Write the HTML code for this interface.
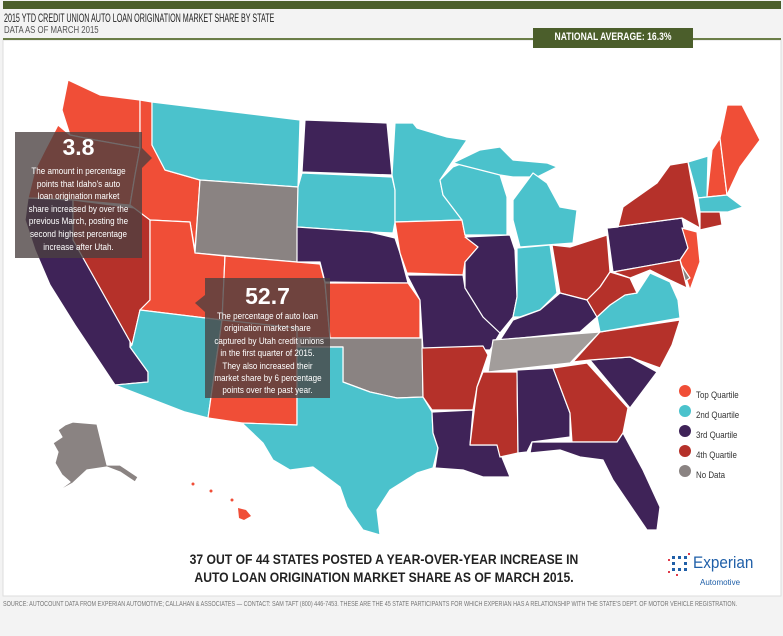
<!DOCTYPE html>
<html><head><meta charset="utf-8">
<style>
html,body{margin:0;padding:0;background:#f3f3f3;}
body{width:783px;height:636px;position:relative;overflow:hidden;font-family:"Liberation Sans",sans-serif;}
.t{position:absolute;white-space:nowrap;transform-origin:0 0;}
.c{position:absolute;white-space:nowrap;text-align:center;transform-origin:50% 0;}
</style></head><body>
<svg width="783" height="636" viewBox="0 0 783 636" xmlns="http://www.w3.org/2000/svg" style="position:absolute;left:0;top:0">
<rect x="0" y="0" width="783" height="636" fill="#f3f3f3"/>
<rect x="3" y="1" width="778" height="8" fill="#4b5e2b"/>
<rect x="3" y="40" width="778" height="556" fill="#fff" stroke="#ddd"/>
<rect x="3" y="38" width="778" height="2" fill="#6b7d48"/>
<rect x="533" y="28" width="160" height="20" fill="#4b5e2b"/>
<g stroke="#fff" stroke-width="1.2" stroke-linejoin="round">
<polygon fill="#f04e37" points="68,80 100,95 140,100 140,148 95,140 70,135 62,110"/>
<polygon fill="#f04e37" points="58,125 70,135 95,140 140,148 135,175 130,205 73,200 28,198 35,170 45,150"/>
<polygon fill="#3f2358" points="28,198 73,200 73,240 130,320 130,347 148,372 148,382 115,385 95,355 75,325 50,285 35,250 25,220"/>
<polygon fill="#b5312a" points="73,200 150,210 150,300 140,310 132,345 73,240"/>
<polygon fill="#f04e37" points="140,100 152,102 152,145 165,170 200,180 195,250 190,222 150,220 130,205 135,175 140,148"/>
<polygon fill="#4bc2cc" points="152,102 300,120 298,187 200,180 165,170 152,145"/>
<polygon fill="#8a8382" points="200,180 298,187 297,262 195,253"/>
<polygon fill="#f04e37" points="150,220 190,222 195,253 225,256 222,320 140,310 150,300"/>
<polygon fill="#f04e37" points="225,256 320,264 325,283 330,338 297,338 222,320"/>
<polygon fill="#4bc2cc" points="140,310 222,320 208,418 185,412 115,385 148,382 148,372 130,347 132,345"/>
<polygon fill="#f04e37" points="222,320 297,328 297,425 242,423 208,418"/>
<polygon fill="#3f2358" points="305,120 387,123 392,175 302,172"/>
<polygon fill="#4bc2cc" points="302,173 392,177 395,190 395,222 393,233 370,232 297,227 298,187"/>
<polygon fill="#3f2358" points="297,227 370,232 395,238 400,253 408,283 325,282 320,262 297,262"/>
<polygon fill="#f04e37" points="325,283 408,283 420,300 420,338 330,338"/>
<polygon fill="#8a8382" points="300,338 422,338 423,397 397,398 370,392 343,382 343,347 300,347"/>
<polygon fill="#4bc2cc" points="297,347 343,347 343,382 370,392 397,398 423,397 432,412 433,433 438,448 433,468 417,473 390,490 377,510 380,535 363,530 347,507 340,487 313,467 290,470 273,460 263,443 242,423 297,425"/>
<polygon fill="#4bc2cc" points="395,123 413,123 417,128 447,137 467,140 440,180 443,195 462,220 395,222 395,190 392,175"/>
<polygon fill="#f04e37" points="395,222 462,220 465,235 478,247 465,262 463,275 407,273 400,253"/>
<polygon fill="#3f2358" points="407,275 463,275 465,288 480,303 483,317 500,333 490,350 423,350 420,300"/>
<polygon fill="#b5312a" points="422,348 483,346 488,355 477,387 473,410 432,410 423,397"/>
<polygon fill="#3f2358" points="432,412 473,410 470,445 497,445 510,477 483,477 463,470 435,468 438,448 433,433"/>
<polygon fill="#4bc2cc" points="440,180 453,167 477,158 500,175 507,197 507,235 465,235 462,220 443,195"/>
<polygon fill="#3f2358" points="465,237 510,235 515,250 517,297 513,317 500,333 483,317 465,288 465,262 478,247"/>
<polygon fill="#4bc2cc" points="453,163 480,150 500,147 513,160 547,163 557,167 537,177 513,177 500,175"/>
<polygon fill="#4bc2cc" points="513,200 533,173 547,183 560,207 577,210 573,243 520,247 513,220"/>
<polygon fill="#4bc2cc" points="517,248 550,245 557,293 540,310 520,317 513,317 517,297"/>
<polygon fill="#b5312a" points="552,245 570,247 607,235 610,272 600,287 587,300 560,293"/>
<polygon fill="#3f2358" points="513,320 540,310 560,293 587,300 597,317 580,332 500,340"/>
<polygon fill="#a29d9b" points="493,340 600,332 570,363 488,372"/>
<polygon fill="#b5312a" points="483,372 517,372 518,453 500,457 497,445 470,445 477,387"/>
<polygon fill="#3f2358" points="517,370 553,368 570,413 570,437 532,442 527,452 518,453"/>
<polygon fill="#b5312a" points="553,368 587,363 628,408 623,433 617,442 572,442 570,413"/>
<polygon fill="#3f2358" points="532,442 617,442 623,433 643,470 660,507 657,530 647,530 613,480 603,460 580,457 560,450 530,453"/>
<polygon fill="#3f2358" points="590,360 630,357 657,372 630,408"/>
<polygon fill="#b5312a" points="573,362 600,332 680,320 672,345 660,368 630,357 590,360"/>
<polygon fill="#4bc2cc" points="597,317 610,305 625,295 637,293 650,273 670,282 678,300 680,318 600,332"/>
<polygon fill="#b5312a" points="610,272 630,278 637,293 625,295 610,305 597,317 587,300 600,287"/>
<polygon fill="#3f2358" points="607,228 682,218 688,248 680,260 613,272"/>
<polygon fill="#b5312a" points="618,227 623,207 657,183 670,165 688,162 697,213 700,228 682,218 607,228"/>
<polygon fill="#f04e37" points="682,228 697,232 700,262 690,290 680,260 688,248"/>
<polygon fill="#8a8382" points="678,260 690,278 684,282"/>
<polygon fill="#b5312a" points="613,272 680,260 687,288 670,280 650,270 630,278"/>
<polygon fill="#4bc2cc" points="688,162 708,156 707,197 698,198"/>
<polygon fill="#f04e37" points="712,150 720,138 727,195 707,197"/>
<polygon fill="#f04e37" points="720,138 727,105 742,105 760,140 740,167 727,195"/>
<polygon fill="#4bc2cc" points="698,198 727,195 743,207 728,212 700,212"/>
<polygon fill="#b5312a" points="700,212 720,212 722,225 700,230"/>
<polygon fill="#8a8382" points="65,425 73,422 97,424 107,465 120,465 138,477 135,482 120,472 107,467 87,470 73,483 55,493 70,482 62,475 55,463 58,452 53,443 62,437 58,430"/>
</g>
<g fill="#f04e37"><polygon points="238,508 246,510 251,516 244,520 239,518"/><circle cx="193" cy="484" r="1.5"/><circle cx="211" cy="491" r="1.5"/><circle cx="232" cy="500" r="1.5"/></g>
<rect x="15" y="132" width="127" height="126" fill="#4a4040" fill-opacity="0.78"/>
<polygon points="142,148 152,158 142,168" fill="#4a4040" fill-opacity="0.78"/>
<rect x="205" y="278" width="125" height="120" fill="#4a4040" fill-opacity="0.78"/>
<polygon points="205,295 195,303 205,312" fill="#4a4040" fill-opacity="0.78"/>
<circle cx="685" cy="391" r="6" fill="#f04e37"/>
<circle cx="685" cy="411" r="6" fill="#4bc2cc"/>
<circle cx="685" cy="431" r="6" fill="#3f2358"/>
<circle cx="685" cy="451" r="6" fill="#b5312a"/>
<circle cx="685" cy="471" r="6" fill="#8a8382"/>
<g fill="#1f5fa8"><rect x="672" y="556" width="3" height="3"/><rect x="672" y="562" width="3" height="3"/><rect x="672" y="568" width="3" height="3"/><rect x="678" y="568" width="3" height="3"/><rect x="684" y="568" width="3" height="3"/><rect x="684" y="562" width="3" height="3"/><rect x="684" y="556" width="3" height="3"/><rect x="678" y="556" width="3" height="3"/></g>
<g fill="#e03a4a"><rect x="668" y="559" width="2" height="2"/><rect x="668" y="571" width="2" height="2"/><rect x="688" y="553" width="2" height="2"/><rect x="676" y="574" width="2" height="2"/></g>
</svg>
<div class="t" style="left:4px;top:11px;font-size:12px;color:#222;transform:scaleX(0.595);">2015 YTD CREDIT UNION AUTO LOAN ORIGINATION MARKET SHARE BY STATE</div>
<div class="t" style="left:4px;top:25px;font-size:10px;color:#555;transform:scaleX(0.78);">DATA AS OF MARCH 2015</div>
<div class="c" style="left:533px;top:31px;width:160px;font-size:11px;color:#fff;font-weight:bold;transform:scaleX(0.78);">NATIONAL AVERAGE: 16.3%</div>
<div class="c" style="left:15px;top:134px;width:127px;color:#fff;font-weight:bold;font-size:23px;">3.8</div>
<div class="c" style="left:15px;top:166px;width:127px;color:#fff;font-size:9.5px;line-height:12.6px;transform:scaleX(0.85);">The amount in percentage<br>points that Idaho's auto<br>loan origination market<br>share increased by over the<br>previous March, posting the<br>second highest percentage<br>increase after Utah.</div>
<div class="c" style="left:205px;top:283px;width:125px;color:#fff;font-weight:bold;font-size:23px;">52.7</div>
<div class="c" style="left:205px;top:311px;width:125px;color:#fff;font-size:9.5px;line-height:12.4px;transform:scaleX(0.85);">The percentage of auto loan<br>origination market share<br>captured by Utah credit unions<br>in the first quarter of 2015.<br>They also increased their<br>market share by 6 percentage<br>points over the past year.</div>
<div class="t" style="left:696px;top:385px;font-size:9px;color:#333;line-height:20px;transform:scaleX(0.88);">Top Quartile<br>2nd Quartile<br>3rd Quartile<br>4th Quartile<br>No Data</div>
<div class="c" style="left:119px;top:551px;width:530px;font-size:13.5px;font-weight:bold;color:#222;line-height:18px;transform:scaleX(0.9);">37 OUT OF 44 STATES POSTED A YEAR-OVER-YEAR INCREASE IN<br>AUTO LOAN ORIGINATION MARKET SHARE AS OF MARCH 2015.</div>
<div class="t" style="left:693px;top:553px;font-size:17px;color:#1f5fa8;transform:scaleX(0.9);">Experian</div>
<div class="t" style="left:700px;top:578px;font-size:8px;color:#1f5fa8;">Automotive</div>
<div class="t" style="left:3px;top:601px;font-size:7px;color:#777;transform:scaleX(0.78);">SOURCE: AUTOCOUNT DATA FROM EXPERIAN AUTOMOTIVE; CALLAHAN &amp; ASSOCIATES — CONTACT: SAM TAFT (800) 446-7453. THESE ARE THE 45 STATE PARTICIPANTS FOR WHICH EXPERIAN HAS A RELATIONSHIP WITH THE STATE'S DEPT. OF MOTOR VEHICLE REGISTRATION.</div>
</body></html>
